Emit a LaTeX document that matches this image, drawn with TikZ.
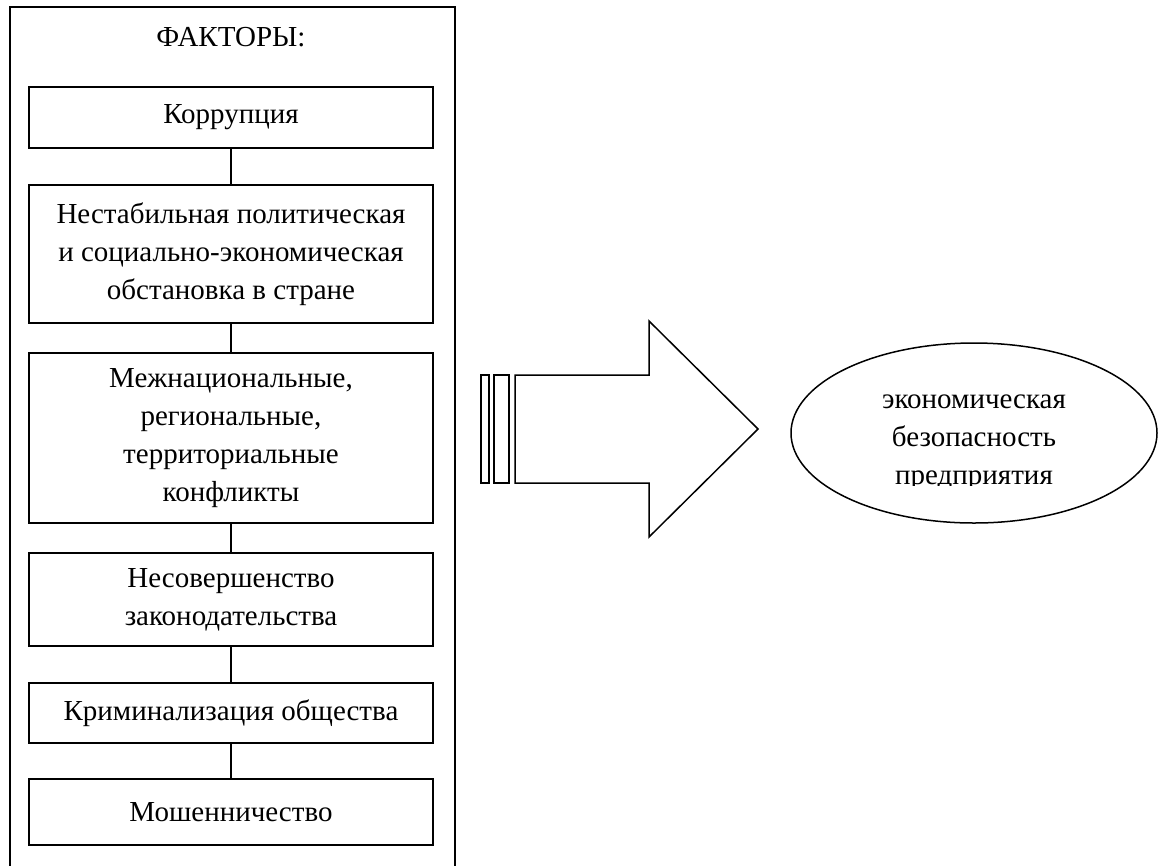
\documentclass[tikz,border=0pt]{standalone}
\usepackage{fontspec}
\setmainfont{Liberation Serif}
\usetikzlibrary{shapes.geometric}
\begin{document}
\begin{tikzpicture}[x=1pt,y=-1pt, line width=1.5pt,
  txt/.style={font=\fontsize{29}{38}\selectfont, align=center},
  factor/.style={txt, draw, minimum width=404pt, inner sep=0pt},
  link/.style={draw}]
\useasboundingbox (0,0) rectangle (1158,865);
\clip (0,0) rectangle (1158,865);

% outer frame, open at the bottom of the page
\draw (10,7) rectangle (455,900);
\node[txt] (title) at (231,37) {ФАКТОРЫ:};

% chain of factors
\node[factor, minimum height=61pt]  (f1) at (231,117.5) {Коррупция};
\node[factor, minimum height=138pt] (f2) at (231,254) {Нестабильная политическая\\и социально-экономическая\\обстановка в стране};
\node[factor, minimum height=170pt] (f3) at (231,438) {Межнациональные,\\региональные,\\территориальные\\конфликты};
\node[factor, minimum height=93pt]  (f4) at (231,599.5) {Несовершенство\\законодательства};
\node[factor, minimum height=60pt]  (f5) at (231,713) {Криминализация общества};
\node[factor, minimum height=66pt]  (f6) at (231,812) {Мошенничество};

\draw[link] (f1) -- (f2);
\draw[link] (f2) -- (f3);
\draw[link] (f3) -- (f4);
\draw[link] (f4) -- (f5);
\draw[link] (f5) -- (f6);

% striped block arrow
\draw (481,375) rectangle (489,483);
\draw (494,375) rectangle (509,483);
\draw (515,375) -- (649,375) -- (649,321) -- (758,429) -- (649,537) -- (649,483) -- (515,483) -- cycle;

% result
\node[draw, ellipse, minimum width=366pt, minimum height=180pt, inner sep=0pt] (goal) at (974,433) {};
\begin{scope}
  \clip (780,330) rectangle (1158,485);
  \node[txt] (goaltext) at (974,443) {экономическая\\безопасность\\предприятия};
\end{scope}
\end{tikzpicture}
\end{document}
